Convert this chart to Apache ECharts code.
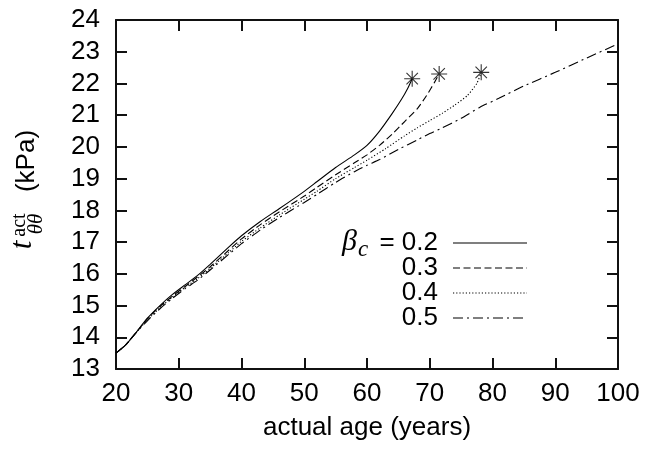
<!DOCTYPE html>
<html>
<head>
<meta charset="utf-8">
<script src="https://cdn.jsdelivr.net/npm/echarts@6/dist/echarts.min.js"></script>
<style>html,body{margin:0;padding:0;background:#fff}#c{width:649px;height:458px}</style>
</head>
<body>
<div id="c"></div>
<script>
// ---- data ----
const xTicks = [20,30,40,50,60,70,80,90,100];
const yTicks = [13,14,15,16,17,18,19,20,21,22,23,24];
const legendLabels = ['0.2','0.3','0.4','0.5'];

const age02 = [20,21.5,23,25,27,29,31,33,35,38,40,43,46,50,52,55,58,60,62,64,65.5,66.5,67.2];
const t02   = [13.5,13.75,14.1,14.6,15.0,15.35,15.65,15.95,16.3,16.85,17.2,17.65,18.05,18.6,18.9,19.35,19.75,20.05,20.5,21.05,21.5,21.85,22.15];

const age03 = [20,21.5,23,25,27,29,31,33,35,38,40,43,46,50,52,55,58,60,62,64,66,68,69.5,70.8,71.5];
const t03   = [13.5,13.75,14.1,14.58,14.97,15.3,15.6,15.9,16.22,16.75,17.1,17.55,17.95,18.45,18.72,19.12,19.5,19.75,20.05,20.4,20.8,21.2,21.62,22.05,22.3];

const age04 = [20,21.5,23,25,27,29,31,33,35,38,40,43,46,50,52,55,58,60,63,66,68,70,72,74,76,77.5,78.2];
const t04   = [13.5,13.75,14.1,14.55,14.93,15.27,15.57,15.85,16.17,16.68,17.02,17.45,17.85,18.35,18.6,19.0,19.35,19.58,19.95,20.35,20.6,20.83,21.06,21.32,21.62,22.0,22.35];

const age05 = [20,21.5,23,25,27,29,31,33,35,38,40,43,46,50,52,55,58,60,62,65,68,70,72,75,78,81,85,90,95,100];
const t05   = [13.5,13.75,14.1,14.52,14.9,15.23,15.53,15.8,16.12,16.62,16.95,17.38,17.77,18.25,18.5,18.88,19.22,19.42,19.6,19.92,20.22,20.42,20.6,20.9,21.25,21.53,21.92,22.35,22.8,23.25];

// ---- build ----
const zip = (a,b) => a.map((v,i)=>[v,b[i]]);
const dashes = ['solid', [7,3.5], [1.2,2], [10,4,2,4]];
const curves = [[age02,t02],[age03,t03],[age04,t04]];
const stars = curves.map(c => [c[0][c[0].length-1], c[1][c[1].length-1]]);

const font = 'Liberation Sans, Arial, sans-serif';
const serif = 'Liberation Serif, Times New Roman, serif';
const axisCommon = {
  axisLine: {show: true, lineStyle: {color: '#111', width: 2}},
  axisTick: {show: true, inside: true, length: 11, lineStyle: {color: '#111', width: 2}},
  splitLine: {show: false}
};

const series = [[age02,t02],[age03,t03],[age04,t04],[age05,t05]].map((c,i)=>({
  type: 'line', xAxisIndex: 0, yAxisIndex: 0,
  data: zip(c[0], c[1]), showSymbol: false, symbol: 'none', smooth: 0.2,
  lineStyle: {color: '#000', width: 1.1, type: dashes[i]},
  silent: true, z: 3
}));
series.push({
  type: 'scatter', xAxisIndex: 0, yAxisIndex: 0, data: stars,
  symbol: 'path://M0,-7L0,7M-7,0L7,0M-5,-5L5,5M-5,5L5,-5',
  symbolSize: 16,
  itemStyle: {color: 'none', borderColor: '#000', borderWidth: 1.1},
  z: 4
});

// legend graphics
const legendG = [];
const rowY = [243, 268, 293, 318];
legendLabels.forEach((lab, i) => {
  legendG.push({type: 'text', x: 438, y: rowY[i], style: {text: (i===0 ? '= ' : '') + lab, font: '26px ' + font, fill: '#000', textAlign: 'right', textVerticalAlign: 'middle'}});
  legendG.push({type: 'line', shape: {x1: 453, y1: rowY[i], x2: 527, y2: rowY[i]}, style: {stroke: '#000', lineWidth: 1.1, lineDash: dashes[i] === 'solid' ? null : dashes[i]}});
});
legendG.push({type: 'text', x: 342, y: 242, style: {text: 'β', font: 'italic 30px ' + serif, fill: '#000', textAlign: 'left', textVerticalAlign: 'middle'}});
legendG.push({type: 'text', x: 358, y: 250, style: {text: 'c', font: 'italic 23px ' + serif, fill: '#000', textAlign: 'left', textVerticalAlign: 'middle'}});

// y-axis title graphics (rotated)
const rot = Math.PI/2;
const yTitle = [
  {type: 'text', x: 27, y: 161, rotation: rot, style: {text: '(kPa)', font: '26px ' + font, fill: '#000', textAlign: 'center', textVerticalAlign: 'middle'}},
  {type: 'text', x: 23, y: 245, rotation: rot, style: {text: 't', font: 'italic 31px ' + serif, fill: '#000', textAlign: 'center', textVerticalAlign: 'middle'}},
  {type: 'text', x: 20, y: 225, rotation: rot, style: {text: 'act', font: '20px ' + serif, fill: '#000', textAlign: 'center', textVerticalAlign: 'middle'}},
  {type: 'text', x: 36, y: 224, rotation: rot, style: {text: 'θθ', font: 'italic 21px ' + serif, fill: '#000', textAlign: 'center', textVerticalAlign: 'middle'}}
];

const chart = echarts.init(document.getElementById('c'), null, {renderer: 'canvas'});
chart.setOption({
  backgroundColor: '#fff',
  animation: false,
  grid: {left: 116, right: 31, top: 20, bottom: 89, containLabel: false},
  xAxis: [
    Object.assign({}, axisCommon, {type: 'value', position: 'bottom', min: xTicks[0], max: xTicks[xTicks.length-1], interval: 10,
      axisLabel: {show: true, margin: 12, fontSize: 26, fontFamily: font, color: '#000'},
      name: 'actual age (years)', nameLocation: 'middle', nameGap: 46,
      nameTextStyle: {fontSize: 26, fontFamily: font, color: '#000'}}),
    Object.assign({}, axisCommon, {type: 'value', position: 'top', min: xTicks[0], max: xTicks[xTicks.length-1], interval: 10,
      axisLabel: {show: false}})
  ],
  yAxis: [
    Object.assign({}, axisCommon, {type: 'value', position: 'left', min: yTicks[0], max: yTicks[yTicks.length-1], interval: 1,
      axisLabel: {show: true, margin: 16, fontSize: 26, fontFamily: font, color: '#000'}}),
    Object.assign({}, axisCommon, {type: 'value', position: 'right', min: yTicks[0], max: yTicks[yTicks.length-1], interval: 1,
      axisLabel: {show: false}})
  ],
  series: series,
  graphic: legendG.concat(yTitle)
});
</script>
</body>
</html>
